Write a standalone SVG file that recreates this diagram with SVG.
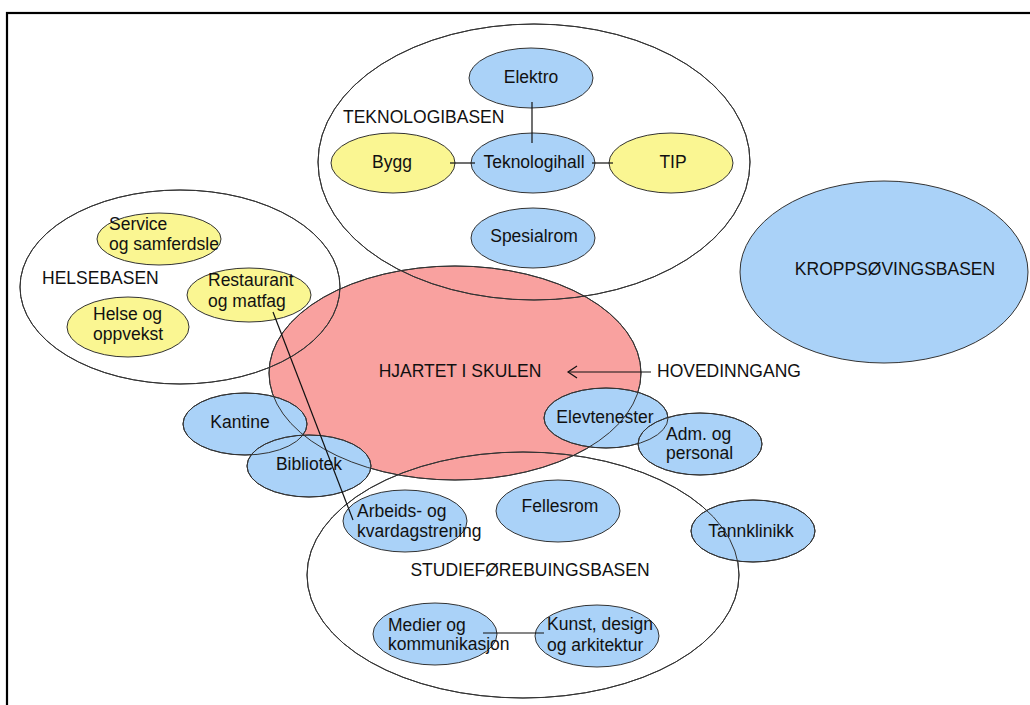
<svg xmlns="http://www.w3.org/2000/svg" xmlns:xlink="http://www.w3.org/1999/xlink" width="1030" height="705" viewBox="0 0 1030 705">
<style>
text{font-family:"Liberation Sans",Arial,sans-serif;font-size:17.5px;fill:#111}
.c{text-anchor:middle}
.blue{fill:#AAD2F8}
.yel{fill:#FAF692}
.pink{fill:#F9A19F}
.base{fill:none}
ellipse{stroke:#333;stroke-width:1}
.ol use{fill:none;stroke:#333;stroke-width:1}
.con line,.con path{stroke:#111;stroke-width:1.2;fill:none}
</style>
<rect x="7" y="13" width="1040" height="710" fill="#fff" stroke="#000" stroke-width="2.2"/>

<g id="hjartet" class="pink">
<ellipse id="e-hjartet" cx="455" cy="373" rx="186" ry="107"/>
<text class="c" x="460" y="377">HJARTET I SKULEN</text>
</g>

<g id="teknologibasen">
<ellipse id="e-tek" class="base" cx="534" cy="162" rx="216" ry="138"/>
<text x="343" y="123">TEKNOLOGIBASEN</text>
</g>
<g id="helsebasen">
<ellipse id="e-hel" class="base" cx="180" cy="287" rx="160" ry="97"/>
<text x="42" y="284">HELSEBASEN</text>
</g>
<g id="studiebasen">
<ellipse id="e-stu" class="base" cx="523" cy="575" rx="216" ry="123"/>
<text class="c" x="530" y="576">STUDIEFØREBUINGSBASEN</text>
</g>

<g id="elektro" class="blue"><ellipse id="e-elektro" cx="531" cy="78" rx="62" ry="30"/><text class="c" x="531" y="83">Elektro</text></g>
<g id="teknologihall" class="blue"><ellipse id="e-tekhall" cx="533" cy="163" rx="62" ry="30"/><text class="c" x="534" y="168">Teknologihall</text></g>
<g id="bygg" class="yel"><ellipse id="e-bygg" cx="393" cy="163" rx="62" ry="30"/><text class="c" x="392" y="168">Bygg</text></g>
<g id="tip" class="yel"><ellipse id="e-tip" cx="671" cy="163" rx="62" ry="30"/><text class="c" x="673" y="168">TIP</text></g>
<g id="spesialrom" class="blue"><ellipse id="e-spes" cx="533" cy="238" rx="62" ry="30"/><text class="c" x="534" y="242">Spesialrom</text></g>

<g id="service" class="yel"><ellipse id="e-serv" cx="159" cy="239" rx="62" ry="26"/><text x="109" y="230">Service</text><text x="109" y="250">og samferdsle</text></g>
<g id="restaurant" class="yel"><ellipse id="e-rest" cx="249" cy="295" rx="62" ry="27"/><text x="208" y="286">Restaurant</text><text x="208" y="307">og matfag</text></g>
<g id="helse" class="yel"><ellipse id="e-helse" cx="128" cy="327" rx="61" ry="30"/><text x="93" y="320">Helse og</text><text x="93" y="340">oppvekst</text></g>

<g id="kropp" class="blue"><ellipse id="e-kropp" cx="884" cy="272" rx="144" ry="91"/><text class="c" x="895" y="275">KROPPSØVINGSBASEN</text></g>

<g id="kantine" class="blue"><ellipse id="e-kant" cx="245" cy="424" rx="62" ry="31"/><text class="c" x="240" y="428">Kantine</text></g>
<g id="bibliotek" class="blue"><ellipse id="e-bib" cx="309" cy="466" rx="62" ry="31"/><text class="c" x="309" y="470">Bibliotek</text></g>
<g id="elevtenester" class="blue"><ellipse id="e-elev" cx="606" cy="418" rx="62" ry="30"/><text class="c" x="605" y="423">Elevtenester</text></g>
<g id="adm" class="blue"><ellipse id="e-adm" cx="700" cy="444" rx="62" ry="31"/><text x="666" y="440">Adm. og</text><text x="666" y="459">personal</text></g>
<g id="arbeids" class="blue"><ellipse id="e-arb" cx="405" cy="521" rx="62" ry="31"/><text x="357" y="517">Arbeids- og</text><text x="357" y="537">kvardagstrening</text></g>
<g id="fellesrom" class="blue"><ellipse id="e-fell" cx="558" cy="511" rx="62" ry="31"/><text class="c" x="560" y="512">Fellesrom</text></g>
<g id="tannklinikk" class="blue"><ellipse id="e-tann" cx="753" cy="531" rx="62" ry="31"/><text class="c" x="751" y="537">Tannklinikk</text></g>
<g id="medier" class="blue"><ellipse id="e-med" cx="435" cy="634" rx="62" ry="31"/><text x="388" y="631">Medier og</text><text x="388" y="650">kommunikasjon</text></g>
<g id="kunst" class="blue"><ellipse id="e-kunst" cx="597" cy="636" rx="62" ry="31"/><text x="547" y="630">Kunst, design</text><text x="547" y="651">og arkitektur</text></g>

<g id="hovedinngang"><text x="657" y="377">HOVEDINNGANG</text></g>

<g class="ol">
<use xlink:href="#e-hjartet"/>
<use xlink:href="#e-tek"/>
<use xlink:href="#e-hel"/>
<use xlink:href="#e-stu"/>
<use xlink:href="#e-kant"/>
<use xlink:href="#e-bib"/>
<use xlink:href="#e-elev"/>
<use xlink:href="#e-adm"/>
<use xlink:href="#e-tann"/>
</g>

<g id="connectors" class="con">
<line x1="532" y1="102" x2="532" y2="143"/>
<line x1="450" y1="163" x2="475" y2="163"/>
<line x1="592" y1="163" x2="613" y2="163"/>
<line x1="273" y1="312" x2="353" y2="520"/>
<line x1="483" y1="633" x2="544" y2="633"/>
<line x1="651" y1="372" x2="568" y2="372"/>
<path d="M577 366 L568 372 L577 378"/>
</g>
</svg>
